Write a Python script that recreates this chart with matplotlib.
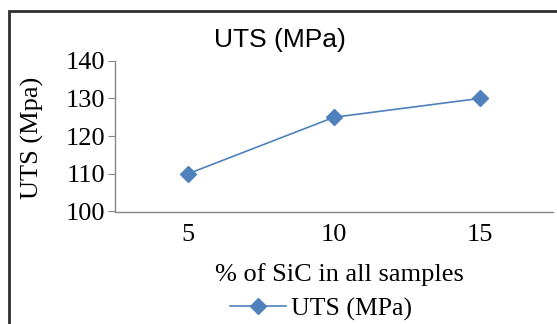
import matplotlib.pyplot as plt
from matplotlib.patches import Rectangle

sic_pct = ["5", "10", "15"]
uts_mpa = [110, 125, 130]
y_ticks = [100, 110, 120, 130, 140]

BLUE = "#4F81BD"
SERIF = ["Liberation Serif", "DejaVu Serif"]
SANS = ["Liberation Sans", "DejaVu Sans"]

fig = plt.figure(figsize=(5.57, 3.24), dpi=100)
W, H = 557, 324

# chart-area frame (right and bottom edges run past the image)
fig.patches.append(Rectangle((9 / W, -0.1), 1.2, 1 - 11.5 / H + 0.1,
                             transform=fig.transFigure, fill=False,
                             edgecolor="#303030", linewidth=2.0))

ax = fig.add_axes([115 / W, 1 - 211.5 / H, (553 - 115) / W, (211.5 - 60.7) / H])
x = range(len(sic_pct))
ax.plot(x, uts_mpa, color=BLUE, linewidth=1.2, marker="D", markersize=8,
        markerfacecolor=BLUE, markeredgecolor=BLUE, label="UTS (MPa)")

ax.set_xlim(-0.5, len(sic_pct) - 0.5)
ax.set_ylim(100, 140)
ax.set_xticks(list(x))
ax.set_xticklabels(sic_pct, fontfamily=SERIF, fontsize=19)
ax.set_yticks(y_ticks)
ax.set_yticklabels([str(v) for v in y_ticks], fontfamily=SERIF, fontsize=19)
ax.tick_params(axis="x", length=0, pad=9)
ax.tick_params(axis="y", length=5, color="#868686", direction="out", pad=2)

for s in ["top", "right"]:
    ax.spines[s].set_visible(False)
for s in ["left", "bottom"]:
    ax.spines[s].set_color("#868686")
    ax.spines[s].set_linewidth(1.0)

fig.text(280 / W, 1 - 40 / H, "UTS (MPa)", ha="center", va="center",
         fontfamily=SANS, fontsize=19)
fig.text(32 / W, 1 - 138 / H, "UTS (Mpa)", ha="center", va="center",
         rotation=90, fontfamily=SERIF, fontsize=19)
fig.text(339 / W, 1 - 275 / H, "% of SiC in all samples", ha="center",
         va="center", fontfamily=SERIF, fontsize=19)

leg = fig.legend(loc="center", bbox_to_anchor=(321 / W, 1 - 309 / H),
                 frameon=False, prop={"family": SERIF, "size": 18.5},
                 handlelength=2.2, handletextpad=0.2, borderpad=0)

fig.savefig("out.png", dpi=100, facecolor="white")
